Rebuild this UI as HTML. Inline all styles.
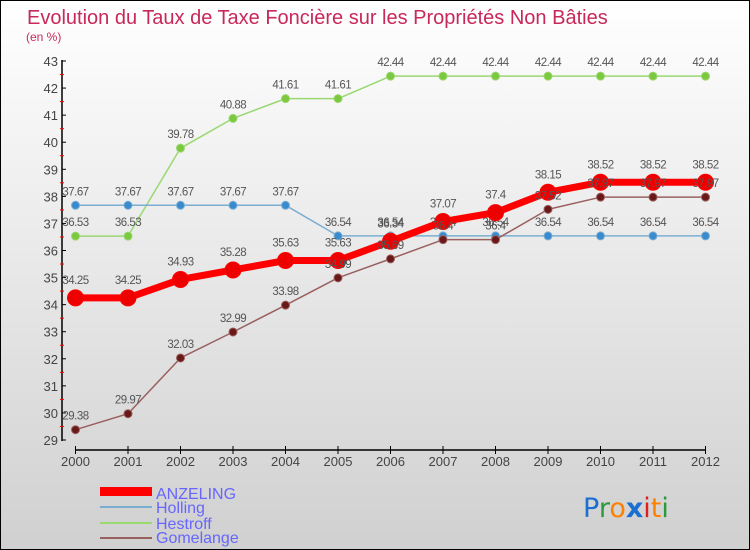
<!DOCTYPE html>
<html><head><meta charset="utf-8"><style>
body{margin:0;width:750px;height:550px;overflow:hidden;font-family:"Liberation Sans",sans-serif}
#wrap{position:absolute;left:0;top:0;width:748px;height:548px;border:1px solid #000;background:linear-gradient(#fff,#d0d0d0)}
</style></head><body>
<div id="wrap">
<svg id="svg" width="750" height="550" style="position:absolute;left:-1px;top:-1px">
<text x="27" y="24" font-size="20" fill="#c8285a">Evolution du Taux de Taxe Foncière sur les Propriétés Non Bâties</text>
<text x="26" y="41" font-size="12" fill="#c8285a">(en %)</text>
<g id="axes"></g><g id="series"></g>
<g>
<rect x="100" y="487" width="52" height="9" fill="#f00"/>
<text x="156" y="499" font-size="16" fill="#6666ff">ANZELING</text>
<rect x="100" y="506" width="52" height="2" fill="#7aaed0"/>
<text x="156" y="513" font-size="16" fill="#6666ff">Holling</text>
<rect x="100" y="522" width="52" height="2" fill="#9ad870"/>
<text x="156" y="529" font-size="16" fill="#6666ff">Hestroff</text>
<rect x="100" y="537" width="52" height="2" fill="#9a6060"/>
<text x="156" y="543" font-size="16" fill="#6666ff">Gomelange</text>
</g>
<g font-size="27" font-family="DejaVu Sans, sans-serif">
<text x="583" y="517"><tspan fill="#1a6fd0">P</tspan><tspan fill="#2a9a3a">r</tspan><tspan fill="#ff7f00">o</tspan><tspan fill="#1a6fd0" font-weight="bold">x</tspan><tspan fill="#e02020">i</tspan><tspan fill="#ff7f00">t</tspan><tspan fill="#2a9a3a">i</tspan></text>
</g>
</svg></div>
<script>
const years=["2000","2001","2002","2003","2004","2005","2006","2007","2008","2009","2010","2011","2012"];
const yTicks=[29,30,31,32,33,34,35,36,37,38,39,40,41,42,43];
const anzeling=[34.25,34.25,34.93,35.28,35.63,35.63,36.34,37.07,37.4,38.15,38.52,38.52,38.52];
const holling=[37.67,37.67,37.67,37.67,37.67,36.54,36.54,36.54,36.54,36.54,36.54,36.54,36.54];
const hestroff=[36.53,36.53,39.78,40.88,41.61,41.61,42.44,42.44,42.44,42.44,42.44,42.44,42.44];
const gomelange=[29.38,29.97,32.03,32.99,33.98,34.99,35.69,36.4,36.4,37.52,37.97,37.97,37.97];
const NS="http://www.w3.org/2000/svg";
const X=i=>75.5+i*(705.5-75.5)/(years.length-1);
const Y=v=>440-(v-29)*(440-61)/14;
function mk(t,a,p){const e=document.createElementNS(NS,t);for(const k in a)e.setAttribute(k,a[k]);p.appendChild(e);return e;}
const ax=document.getElementById('axes');
let yl=mk('line',{x1:62,y1:60,x2:62,y2:441,stroke:'#000','stroke-width':1.5},ax);


yTicks.forEach(v=>{
 mk('line',{x1:62,x2:66,y1:Y(v),y2:Y(v),stroke:'#000'},ax);
 if(v<43)mk('line',{x1:60,x2:64,y1:Y(v+0.5),y2:Y(v+0.5),stroke:'#f00'},ax);
 const t=mk('text',{x:58,y:Y(v)+5,'font-size':13,fill:'#444','text-anchor':'end'},ax);t.textContent=v;
 
 
});
let xl=mk('line',{x1:75,y1:450,x2:706,y2:450,stroke:'#000','stroke-width':1.5},ax);


years.forEach((y,i)=>{
 mk('line',{x1:X(i),x2:X(i),y1:446,y2:454,stroke:'#000'},ax);
 const t=mk('text',{x:X(i),y:466,'font-size':13,fill:'#444','text-anchor':'middle'},ax);t.textContent=y;
 
 
});
const sg=document.getElementById('series');
function draw(name,data,color,lw,r,dot){
 const g=mk('g',{},sg);
 
 
 mk('polyline',{points:data.map((v,i)=>X(i)+','+Y(v)).join(' '),fill:'none',stroke:color,'stroke-width':lw,'stroke-linejoin':'round'},g);
 data.forEach((v,i)=>{
  const c=mk('circle',{cx:X(i),cy:Y(v),r:r,fill:dot,stroke:color,'stroke-width':1},g);
  
  
  const t=mk('text',{x:X(i),y:Y(v)-(r+6),'font-size':11.5,fill:'#555','text-anchor':'middle','letter-spacing':'-0.5'},g);t.textContent=v;
  
  
 });
}
draw('hestroff',hestroff,'#9ad870',1.5,4,'#7cc840');
draw('holling',holling,'#7aaed0',1.5,4,'#3a8ad0');
draw('anzeling',anzeling,'#f00',7,8,'#e00');
draw('gomelange',gomelange,'#9a6060',1.5,4,'#6a1818');
</script>
</body></html>
